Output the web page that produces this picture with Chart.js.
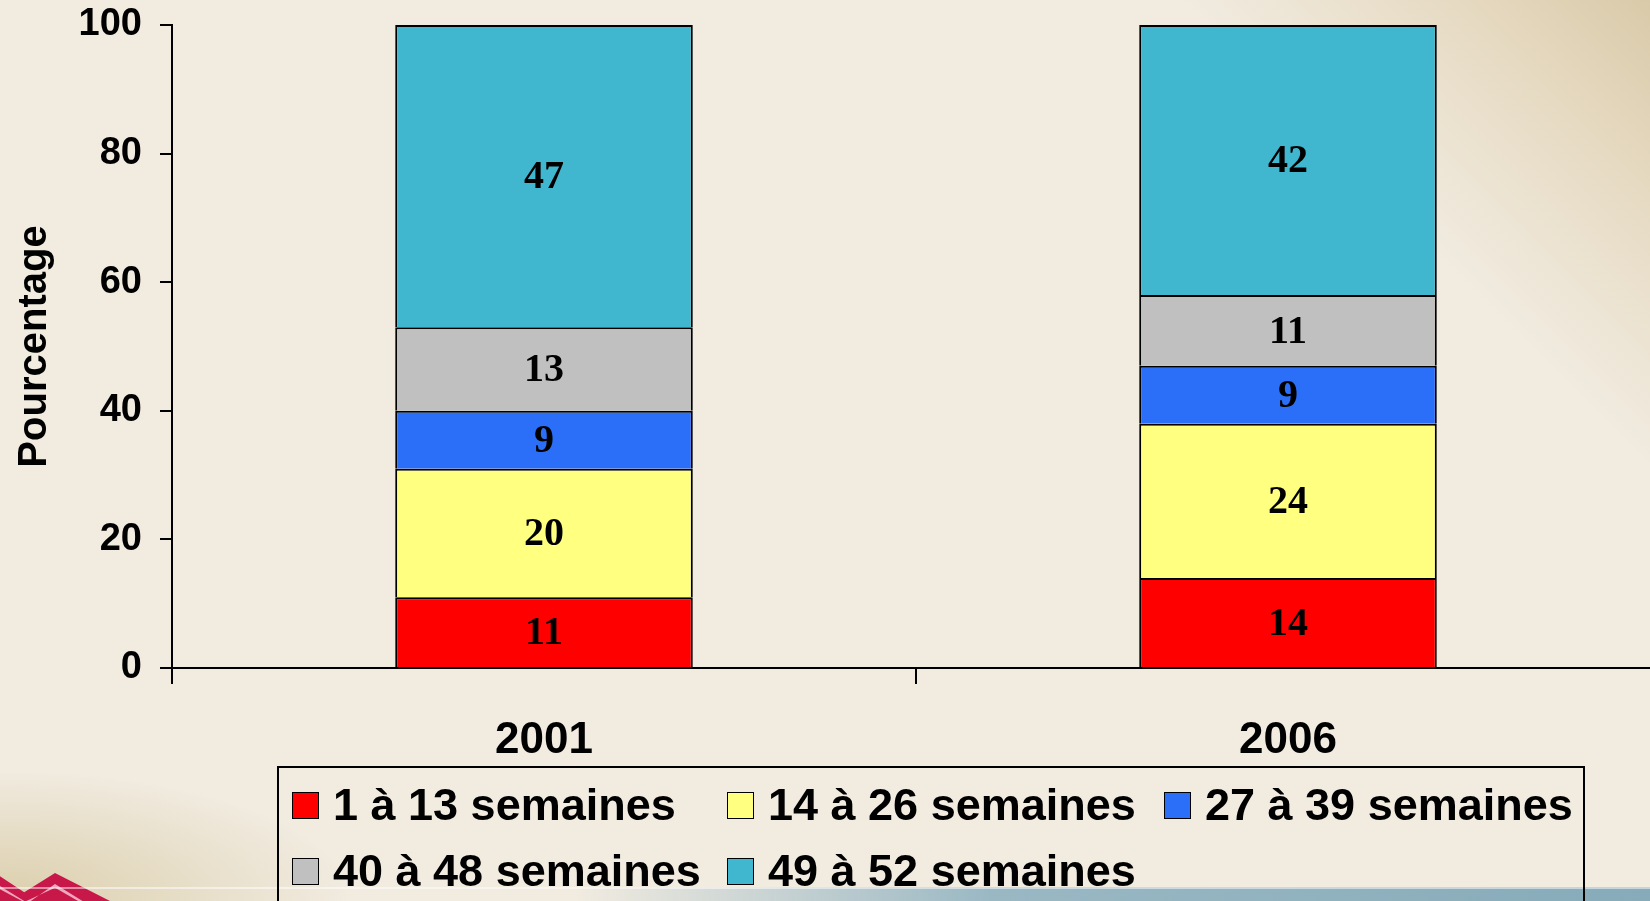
<!DOCTYPE html>
<html lang="fr">
<head>
<meta charset="utf-8">
<title>Pourcentage par durée de travail</title>
<script src="https://cdn.jsdelivr.net/npm/chart.js@4.4.1/dist/chart.umd.min.js"></script>
<style>
    html, body {
        margin: 0;
        padding: 0;
    }
    body {
        width: 1650px;
        height: 901px;
        overflow: hidden;
        position: relative;
        background:
            linear-gradient(225deg, #d9caa9 0px, #e6dac2 140px, rgba(241, 235, 224, 0) 330px),
            #f1ebe0;
        font-family: "Liberation Sans", Arial, sans-serif;
    }
    #chart {
        position: absolute;
        left: 0;
        top: 0;
    }
    .band {
        position: absolute;
        left: 0;
        top: 887px;
        width: 1650px;
        height: 14px;
        background: linear-gradient(to right, rgba(140, 175, 190, 0) 35%, #9ab8c4 60%, #87abb9 100%);
        border-top: 2px solid rgba(255, 255, 255, 0.5);
    }
    .patch {
        position: absolute;
        left: -40px;
        top: 760px;
        width: 420px;
        height: 170px;
        background: radial-gradient(ellipse at 10% 80%, rgba(214, 200, 160, 0.8) 0%, rgba(241, 235, 224, 0) 65%);
    }
    .zigzag {
        position: absolute;
        left: 0;
        top: 870px;
        width: 110px;
        height: 31px;
        background: #c8184a;
        clip-path: polygon(0 20%, 22% 72%, 50% 10%, 100% 100%, 0 100%);
    }
    .zigzag.inner {
        background: #f2a6bd;
        clip-path: polygon(0 52%, 22% 100%, 28% 100%, 50% 45%, 75% 100%, 71% 100%, 50% 57%, 24% 100%, 20% 100%, 0 62%);
    }
    #legend {
        position: absolute;
        left: 277px;
        top: 766px;
        width: 1291px;
        height: 200px;
        border: 2px solid #000;
        box-sizing: content-box;
        display: grid;
        grid-template-columns: 435px 437px auto;
        grid-auto-rows: 66px;
        padding-left: 13px;
        padding-top: 4px;
        z-index: 2;
    }
    .item {
        display: flex;
        align-items: center;
        font-weight: bold;
        font-size: 45px;
        color: #000;
        white-space: nowrap;
    }
    .swatch {
        width: 25px;
        height: 25px;
        border: 1.5px solid #000;
        margin-right: 14px;
        flex: none;
    }
</style>
</head>
<body>
<div class="patch"></div>
<div class="zigzag"></div>
<div class="zigzag inner"></div>
<div class="band"></div>
<canvas id="chart" width="1660" height="901"></canvas>
<div id="legend"></div>
<script>
// Données
const years = ['2001', '2006'];
const seriesNames = ['1 à 13 semaines', '14 à 26 semaines', '27 à 39 semaines', '40 à 48 semaines', '49 à 52 semaines'];
const weeks1to13 = [11, 14];
const weeks14to26 = [20, 24];
const weeks27to39 = [9, 9];
const weeks40to48 = [13, 11];
const weeks49to52 = [47, 42];
const seriesColors = ['#ff0000', '#ffff80', '#2b6ff9', '#c0c0c0', '#40b7cf'];
const yTicks = [0, 20, 40, 60, 80, 100];

const seriesValues = [weeks1to13, weeks14to26, weeks27to39, weeks40to48, weeks49to52];

// Draw the value in the middle of each segment
const barLabels = {
    id: 'barLabels',
    afterDatasetsDraw(chart) {
        const c = chart.ctx;
        c.save();
        c.font = 'bold 40px "Liberation Serif", "Times New Roman", serif';
        c.fillStyle = '#000';
        c.textAlign = 'center';
        c.textBaseline = 'middle';
        chart.data.datasets.forEach((ds, i) => {
            chart.getDatasetMeta(i).data.forEach((bar, j) => {
                const p = bar.getProps(['x', 'y', 'base'], true);
                c.fillText(ds.data[j], p.x, (p.y + p.base) / 2 + 2);
            });
        });
        c.restore();
    }
};

const ctx = document.getElementById('chart').getContext('2d');
const chart = new Chart(ctx, {
    type: 'bar',
    data: {
        labels: years,
        datasets: seriesNames.map((name, i) => ({
            label: name,
            data: seriesValues[i],
            backgroundColor: seriesColors[i],
            borderColor: '#000',
            borderWidth: { top: 2, bottom: 0, left: 2, right: 2 },
            borderSkipped: false,
            barPercentage: 0.4,
            categoryPercentage: 1.0
        }))
    },
    options: {
        responsive: false,
        animation: false,
        layout: {
            padding: { top: 0, left: 0, right: 0, bottom: 0 }
        },
        plugins: {
            legend: { display: false },
            tooltip: { enabled: false }
        },
        scales: {
            x: {
                stacked: true,
                grid: {
                    display: true,
                    offset: true,
                    drawOnChartArea: false,
                    tickLength: 16,
                    color: '#000',
                    lineWidth: 2
                },
                border: { display: true, color: '#000', width: 2 },
                ticks: {
                    color: '#000',
                    padding: 30,
                    font: { family: 'Liberation Sans', size: 44, weight: 'bold' }
                },
                afterFit(scale) {
                    scale.height = 233; // axis line at y = 668
                }
            },
            y: {
                stacked: true,
                min: 0,
                max: 100,
                afterBuildTicks(scale) {
                    scale.ticks = yTicks.map(v => ({ value: v }));
                },
                grid: {
                    drawOnChartArea: false,
                    tickLength: 12,
                    color: '#000',
                    lineWidth: 2
                },
                border: { display: true, color: '#000', width: 2 },
                ticks: {
                    color: '#000',
                    padding: 18,
                    font: { family: 'Liberation Sans', size: 38, weight: 'bold' }
                },
                title: {
                    display: true,
                    text: 'Pourcentage',
                    color: '#000',
                    padding: { top: 11, bottom: 0 },
                    font: { family: 'Liberation Sans', size: 40, weight: 'bold' }
                },
                afterFit(scale) {
                    scale.width = 172;
                    scale.paddingTop = 25; // top of the plot at y = 25
                    scale.paddingBottom = 0;
                }
            }
        }
    },
    plugins: [barLabels]
});

// Legend built from the chart's datasets, laid out in three columns
const legendBox = document.getElementById('legend');
chart.data.datasets.forEach(ds => {
    const item = document.createElement('div');
    item.className = 'item';
    const sw = document.createElement('span');
    sw.className = 'swatch';
    sw.style.background = ds.backgroundColor;
    item.appendChild(sw);
    item.appendChild(document.createTextNode(ds.label));
    legendBox.appendChild(item);
});
</script>
</body>
</html>
